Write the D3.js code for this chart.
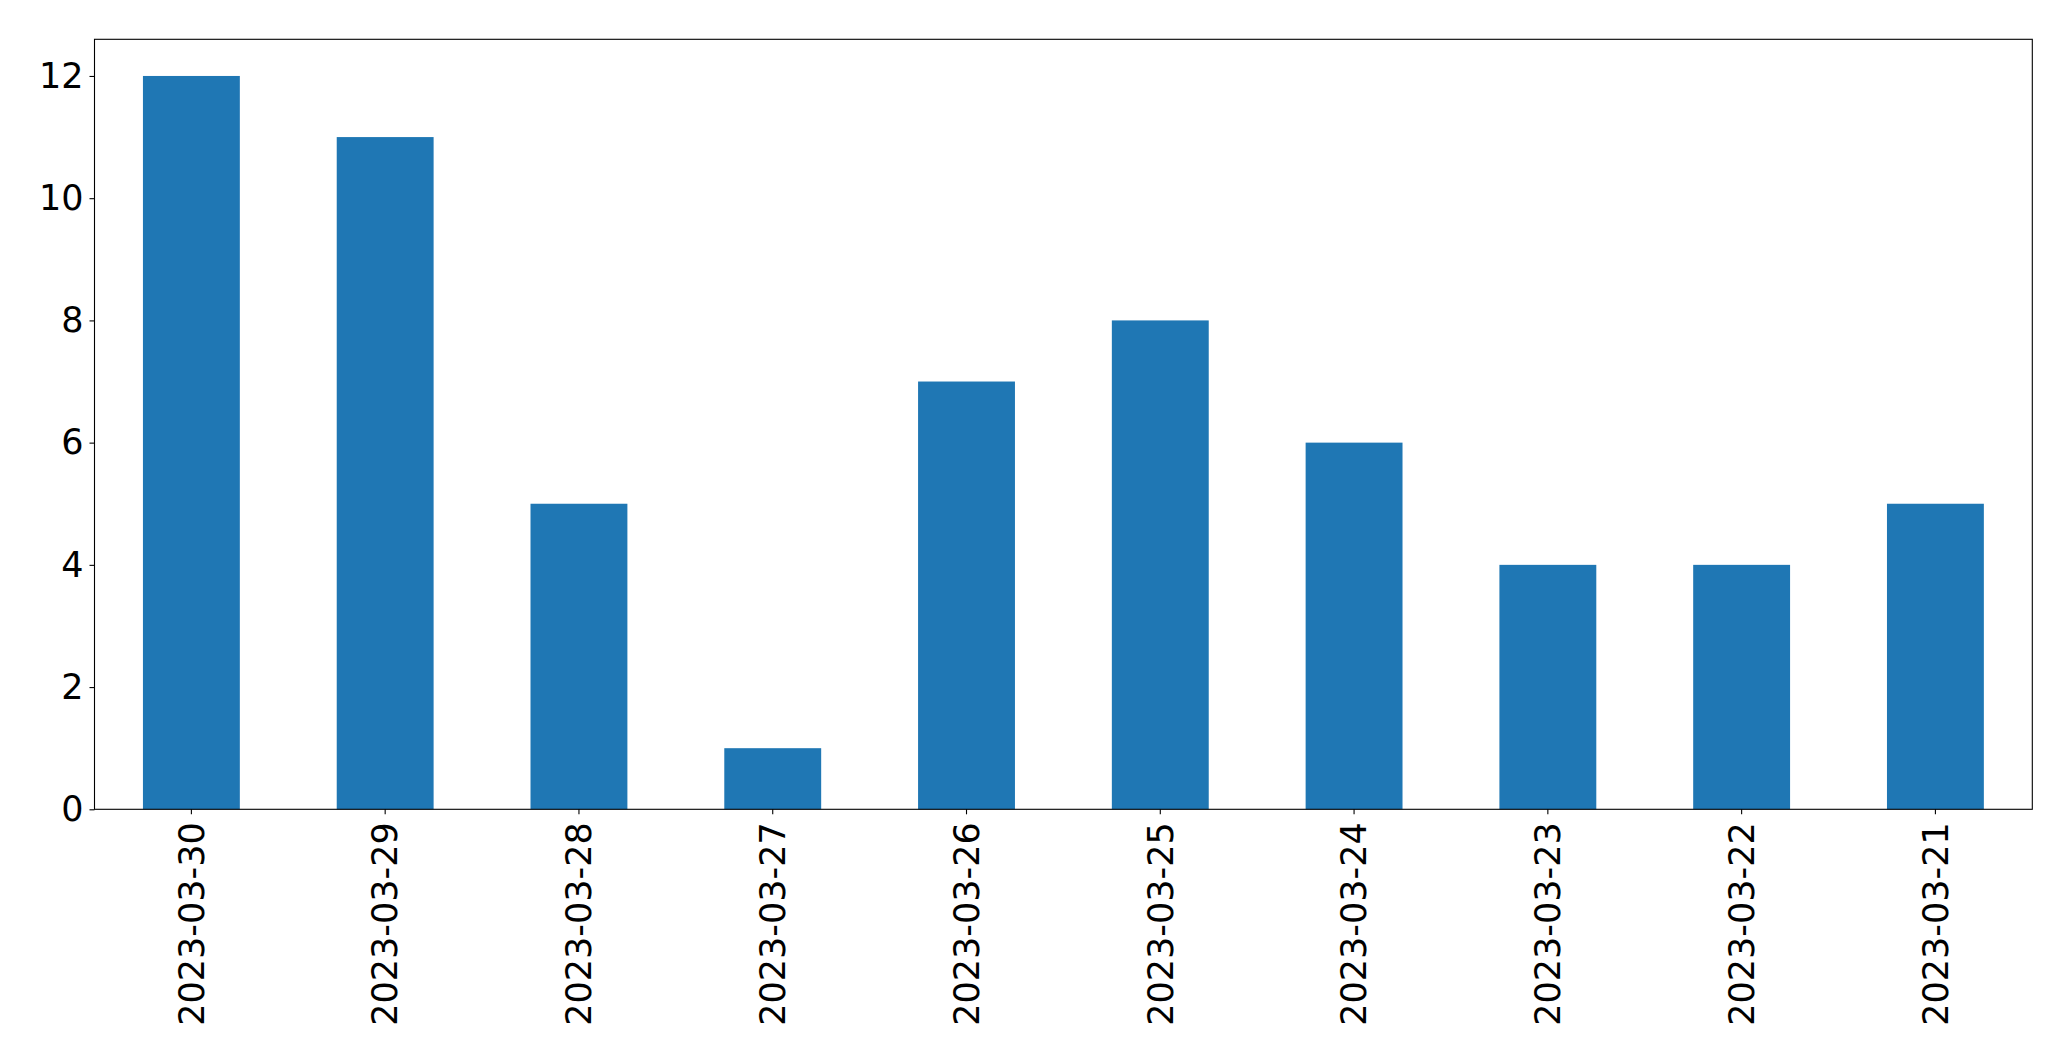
<!DOCTYPE html>
<html>
<head>
<meta charset="utf-8">
<script src="https://cdn.jsdelivr.net/npm/d3@7"></script>
<style>
  html, body { margin: 0; padding: 0; background: #fff; }
  svg { display: block; }
  text { font-family: "DejaVu Sans", sans-serif; fill: #000; }
</style>
</head>
<body>
<svg id="chart" width="2071" height="1061"></svg>
<script>
const categories = ["2023-03-30","2023-03-29","2023-03-28","2023-03-27","2023-03-26","2023-03-25","2023-03-24","2023-03-23","2023-03-22","2023-03-21"];
const values = [12, 11, 5, 1, 7, 8, 6, 4, 4, 5];
const yTicks = [0, 2, 4, 6, 8, 10, 12];

const W = 2071, H = 1061;
const m = { left: 94.5, right: 2032.3, top: 39.3, bottom: 809.3 };
const fontSize = 35;

const svg = d3.select("#chart");

const x = d3.scaleBand().domain(categories).range([m.left, m.right]).paddingInner(0.5).paddingOuter(0.25);
const y = d3.scaleLinear().domain([0, 12.6]).range([m.bottom, m.top]);

// bars
svg.append("g").selectAll("rect").data(values).join("rect")
  .attr("x", (d, i) => x(categories[i]))
  .attr("width", x.bandwidth())
  .attr("y", d => y(d))
  .attr("height", d => y(0) - y(d))
  .attr("fill", "#1f77b4");

// y axis
const yAxis = svg.append("g").attr("transform", `translate(${m.left},0)`)
  .call(d3.axisLeft(y).tickValues(yTicks).tickFormat(d3.format("d")).tickSize(5).tickPadding(6));
yAxis.select(".domain").remove();
yAxis.selectAll("line").attr("stroke", "#000").attr("stroke-width", 1.1);
yAxis.selectAll("text").attr("font-size", fontSize).attr("font-family", "DejaVu Sans").attr("fill", "#000");

// x axis
const xAxis = svg.append("g").attr("transform", `translate(0,${m.bottom})`)
  .call(d3.axisBottom(x).tickSize(5).tickPadding(10));
xAxis.select(".domain").remove();
xAxis.selectAll("line").attr("stroke", "#000").attr("stroke-width", 1.1);
xAxis.selectAll("text")
  .attr("font-size", fontSize)
  .attr("font-family", "DejaVu Sans")
  .attr("fill", "#000")
  .attr("transform", "rotate(-90)")
  .attr("text-anchor", "end")
  .attr("x", -13)
  .attr("y", 0)
  .attr("dy", "0.35em");

// frame
svg.append("rect")
  .attr("x", m.left).attr("y", m.top)
  .attr("width", m.right - m.left).attr("height", m.bottom - m.top)
  .attr("fill", "none").attr("stroke", "#000").attr("stroke-width", 1.1);
</script>
</body>
</html>
